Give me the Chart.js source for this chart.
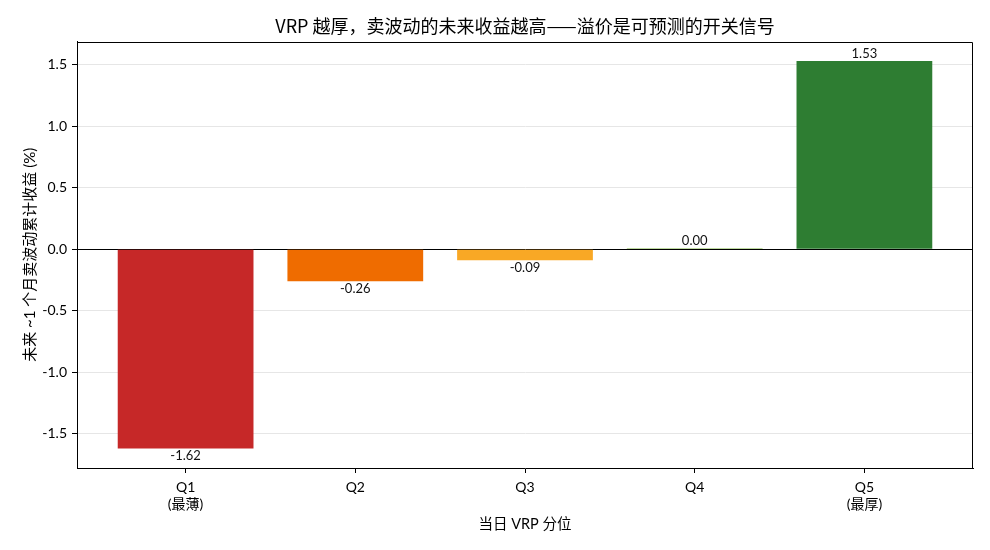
<!DOCTYPE html>
<html><head><meta charset="utf-8">
<script src="https://cdn.jsdelivr.net/npm/chart.js@4/dist/chart.umd.min.js"></script>
<style>html,body{margin:0;padding:0;background:#fff}#w{width:990px;height:550px}</style>
</head><body><div id="w"><canvas id="c"></canvas></div>
<script>
const categories = [['Q1','(最薄)'], ['Q2'], ['Q3'], ['Q4'], ['Q5','(最厚)']];
const values = [-1.62, -0.26, -0.09, 0.004, 1.53];
const valueLabels = ['-1.62', '-0.26', '-0.09', '0.00', '1.53'];
const barColors = ['#c62828', '#ef6c00', '#f9a825', '#7cb342', '#2e7d32'];
const yTicks = [-1.5, -1.0, -0.5, 0.0, 0.5, 1.0, 1.5];

const FONT = "Lato, 'Noto Sans CJK SC', sans-serif";
const CJK = "'Noto Sans CJK SC', Lato, sans-serif";

const boxPlugin = {
  id: 'box',
  afterDraw(chart) {
    const a = chart.chartArea, ctx = chart.ctx;
    ctx.save();
    ctx.strokeStyle = '#000'; ctx.lineWidth = 1;
    const l = Math.round(a.left) + 0.5, t = Math.round(a.top) + 0.5;
    const r = Math.round(a.right) - 0.5, b = Math.round(a.bottom) + 0.5;
    ctx.beginPath();
    ctx.moveTo(l, t); ctx.lineTo(r, t); ctx.lineTo(r, b);
    ctx.stroke();
    ctx.restore();
  }
};
const labelPlugin = {
  id: 'vlabels',
  afterDatasetsDraw(chart) {
    const ctx = chart.ctx;
    const meta = chart.getDatasetMeta(0);
    ctx.save();
    ctx.font = '13px ' + FONT;
    ctx.fillStyle = '#111';
    ctx.textAlign = 'center';
    meta.data.forEach((bar, i) => {
      const v = values[i];
      if (v >= 0) { ctx.textBaseline = 'bottom'; ctx.fillText(valueLabels[i], bar.x, bar.y - 1); }
      else { ctx.textBaseline = 'top'; ctx.fillText(valueLabels[i], bar.x, bar.y + 1); }
    });
    ctx.restore();
  }
};

new Chart(document.getElementById('c'), {
  type: 'bar',
  data: {
    datasets: [{
      data: values.map((v, i) => ({x: i, y: v})),
      backgroundColor: barColors,
      borderWidth: 0,
      minBarLength: 1,
      barPercentage: 0.8,
      categoryPercentage: 1.0
    }]
  },
  options: {
    responsive: true, maintainAspectRatio: false, animation: false,
    layout: {padding: {left: 20, right: 17, top: 0, bottom: 0}},
    plugins: {
      legend: {display: false},
      tooltip: {enabled: false},
      title: {
        display: true, fullSize: false,
        text: 'VRP 越厚，卖波动的未来收益越高——溢价是可预测的开关信号',
        color: '#000', font: {family: CJK, size: 18, weight: 'normal'},
        padding: {top: 15, bottom: 5}
      }
    },
    scales: {
      x: {
        type: 'linear', min: -0.64, max: 4.64, offset: false,
        afterBuildTicks: s => { s.ticks = categories.map((c, i) => ({value: i})); },
        afterFit: s => { s.height = 82; },
        ticks: {
          autoSkip: false, maxRotation: 0, color: '#000', padding: 6,
          font: {family: FONT, size: 14},
          callback: (v) => categories[v]
        },
        grid: {
          display: true, offset: false, drawOnChartArea: false, drawTicks: true, tickLength: 5,
          tickColor: ctx => (ctx.tick && ctx.tick.value >= 0 && ctx.tick.value <= 4) ? '#000' : 'rgba(0,0,0,0)'
        },
        border: {display: true, color: '#000'},
        title: {display: true, text: '当日 VRP 分位', color: '#000', font: {family: FONT, size: 14.5}, padding: {top: 4, bottom: 17}}
      },
      y: {
        min: -1.7775, max: 1.6875,
        afterBuildTicks: s => { s.ticks = yTicks.map(v => ({value: v})); },
        afterFit: s => { s.width = 57; },
        ticks: {
          color: '#000', padding: 5, font: {family: FONT, size: 14},
          callback: v => v.toFixed(1)
        },
        grid: {
          color: ctx => (ctx.tick && ctx.tick.value === 0) ? '#000' : '#e6e6e6',
          lineWidth: 1, drawTicks: true, tickLength: 5, tickColor: '#000'
        },
        border: {display: true, color: '#000'},
        title: {display: true, text: '未来 ~1 个月卖波动累计收益 (%)', color: '#000', font: {family: FONT, size: 15}, padding: {top: 1, bottom: 2}}
      }
    }
  },
  plugins: [boxPlugin, labelPlugin]
});
</script></body></html>
